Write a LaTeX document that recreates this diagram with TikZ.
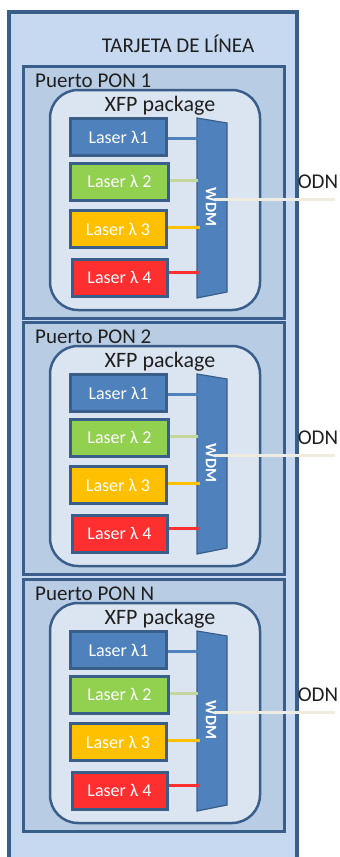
\documentclass[tikz,border=0pt]{standalone}
\usepackage{fontspec}
\setmainfont{Carlito}
\definecolor{cardfill}{HTML}{C6D9F0}
\definecolor{portfill}{HTML}{B8CCE4}
\definecolor{xfpfill}{HTML}{DBE5F1}
\definecolor{edge}{HTML}{3A5E8A}
\definecolor{lzblue}{HTML}{4F81BD}
\definecolor{lzgreen}{HTML}{92D050}
\definecolor{lzorange}{HTML}{FFC000}
\definecolor{lzred}{HTML}{FF2F2F}
\definecolor{greenline}{HTML}{C3D69B}
\definecolor{odnline}{HTML}{EEECE1}
\definecolor{txt}{HTML}{1F1F1F}
\tikzset{
  card/.style={draw=edge, line width=3.5pt, fill=cardfill},
  portbox/.style={draw=edge, line width=3pt, fill=portfill, minimum width=261pt, minimum height=252pt, inner sep=0pt},
  xfpbox/.style={draw=edge, line width=2.5pt, fill=xfpfill, rounded corners=28pt, minimum width=210pt, minimum height=220pt, inner sep=0pt},
  laser/.style={draw=edge, line width=3pt, minimum width=96pt, minimum height=37pt, inner sep=0pt, text=white, font=\fontsize{18}{20}\selectfont},
  wdmshape/.style={draw=edge, line width=1.2pt, fill=lzblue},
  lbl/.style={text=txt, font=\fontsize{21}{22}\selectfont, inner sep=0pt},
  link/.style={line width=3pt},
}
\begin{document}
\begin{tikzpicture}[x=1pt, y=-1pt]
\useasboundingbox (0,0) rectangle (340,857);
\clip (0,0) rectangle (340,857);
\fill[white] (0,0) rectangle (340,857);
\draw[card] (9,12) rectangle (297,880);
\node[lbl, anchor=center] (title) at (178,44) {TARJETA DE LÍNEA};
\foreach \k/\off/\nm in {1/0/1, 2/256/2, 3/513/N} {
  \begin{scope}[yshift=-\off pt]
    \node[portbox] (port\k) at (153.5,192) {};
    \node[lbl, anchor=west] (plabel\k) at (35,81) {Puerto PON \nm};
    \node[xfpbox] (xfp\k) at (155,200) {};
    \node[lbl, font=\fontsize{22}{22}\selectfont] (xfplabel\k) at (160,106) {XFP package};
    \draw[wdmshape] (197,118) -- (227,123) -- (227,292) -- (197,298) -- cycle;
    \coordinate (wdmL\k) at (198,200);
    \coordinate (wdmC\k) at (214,199);
    \node[text=white, rotate=-90, font=\fontsize{16}{18}\selectfont\bfseries, inner sep=0pt] (wdm\k) at (211,207) {WDM};
    \node[laser, fill=lzblue] (la\k) at (118.5,137) {Laser λ1};
    \node[laser, fill=lzgreen, minimum width=98pt] (lb\k) at (119.5,181.5) {Laser λ 2};
    \node[laser, fill=lzorange] (lc\k) at (118,229) {Laser λ 3};
    \node[laser, fill=lzred, minimum width=95pt] (ld\k) at (119.5,277.5) {Laser λ 4};
    \draw[link, draw=lzblue] ([yshift=-1pt]la\k.east) -- ([yshift=-1pt]la\k.east -| wdmL\k);
    \draw[link, draw=greenline] ([yshift=1.5pt]lb\k.east) -- ([yshift=1.5pt]lb\k.east -| wdmL\k);
    \draw[link, draw=lzorange] ([yshift=2pt]lc\k.east) -- ([xshift=2pt,yshift=2pt]lc\k.east -| wdmL\k);
    \draw[link, draw=lzred] ([yshift=5.5pt]ld\k.east) -- ([xshift=2pt,yshift=5.5pt]ld\k.east -| wdmL\k);
    \coordinate (odnend\k) at (335,199);
    \draw[line width=3pt, draw=odnline] (wdmC\k) -- (odnend\k);
    \node[lbl] (odn\k) at (318,182) {ODN};
  \end{scope}
}
\end{tikzpicture}
\end{document}
